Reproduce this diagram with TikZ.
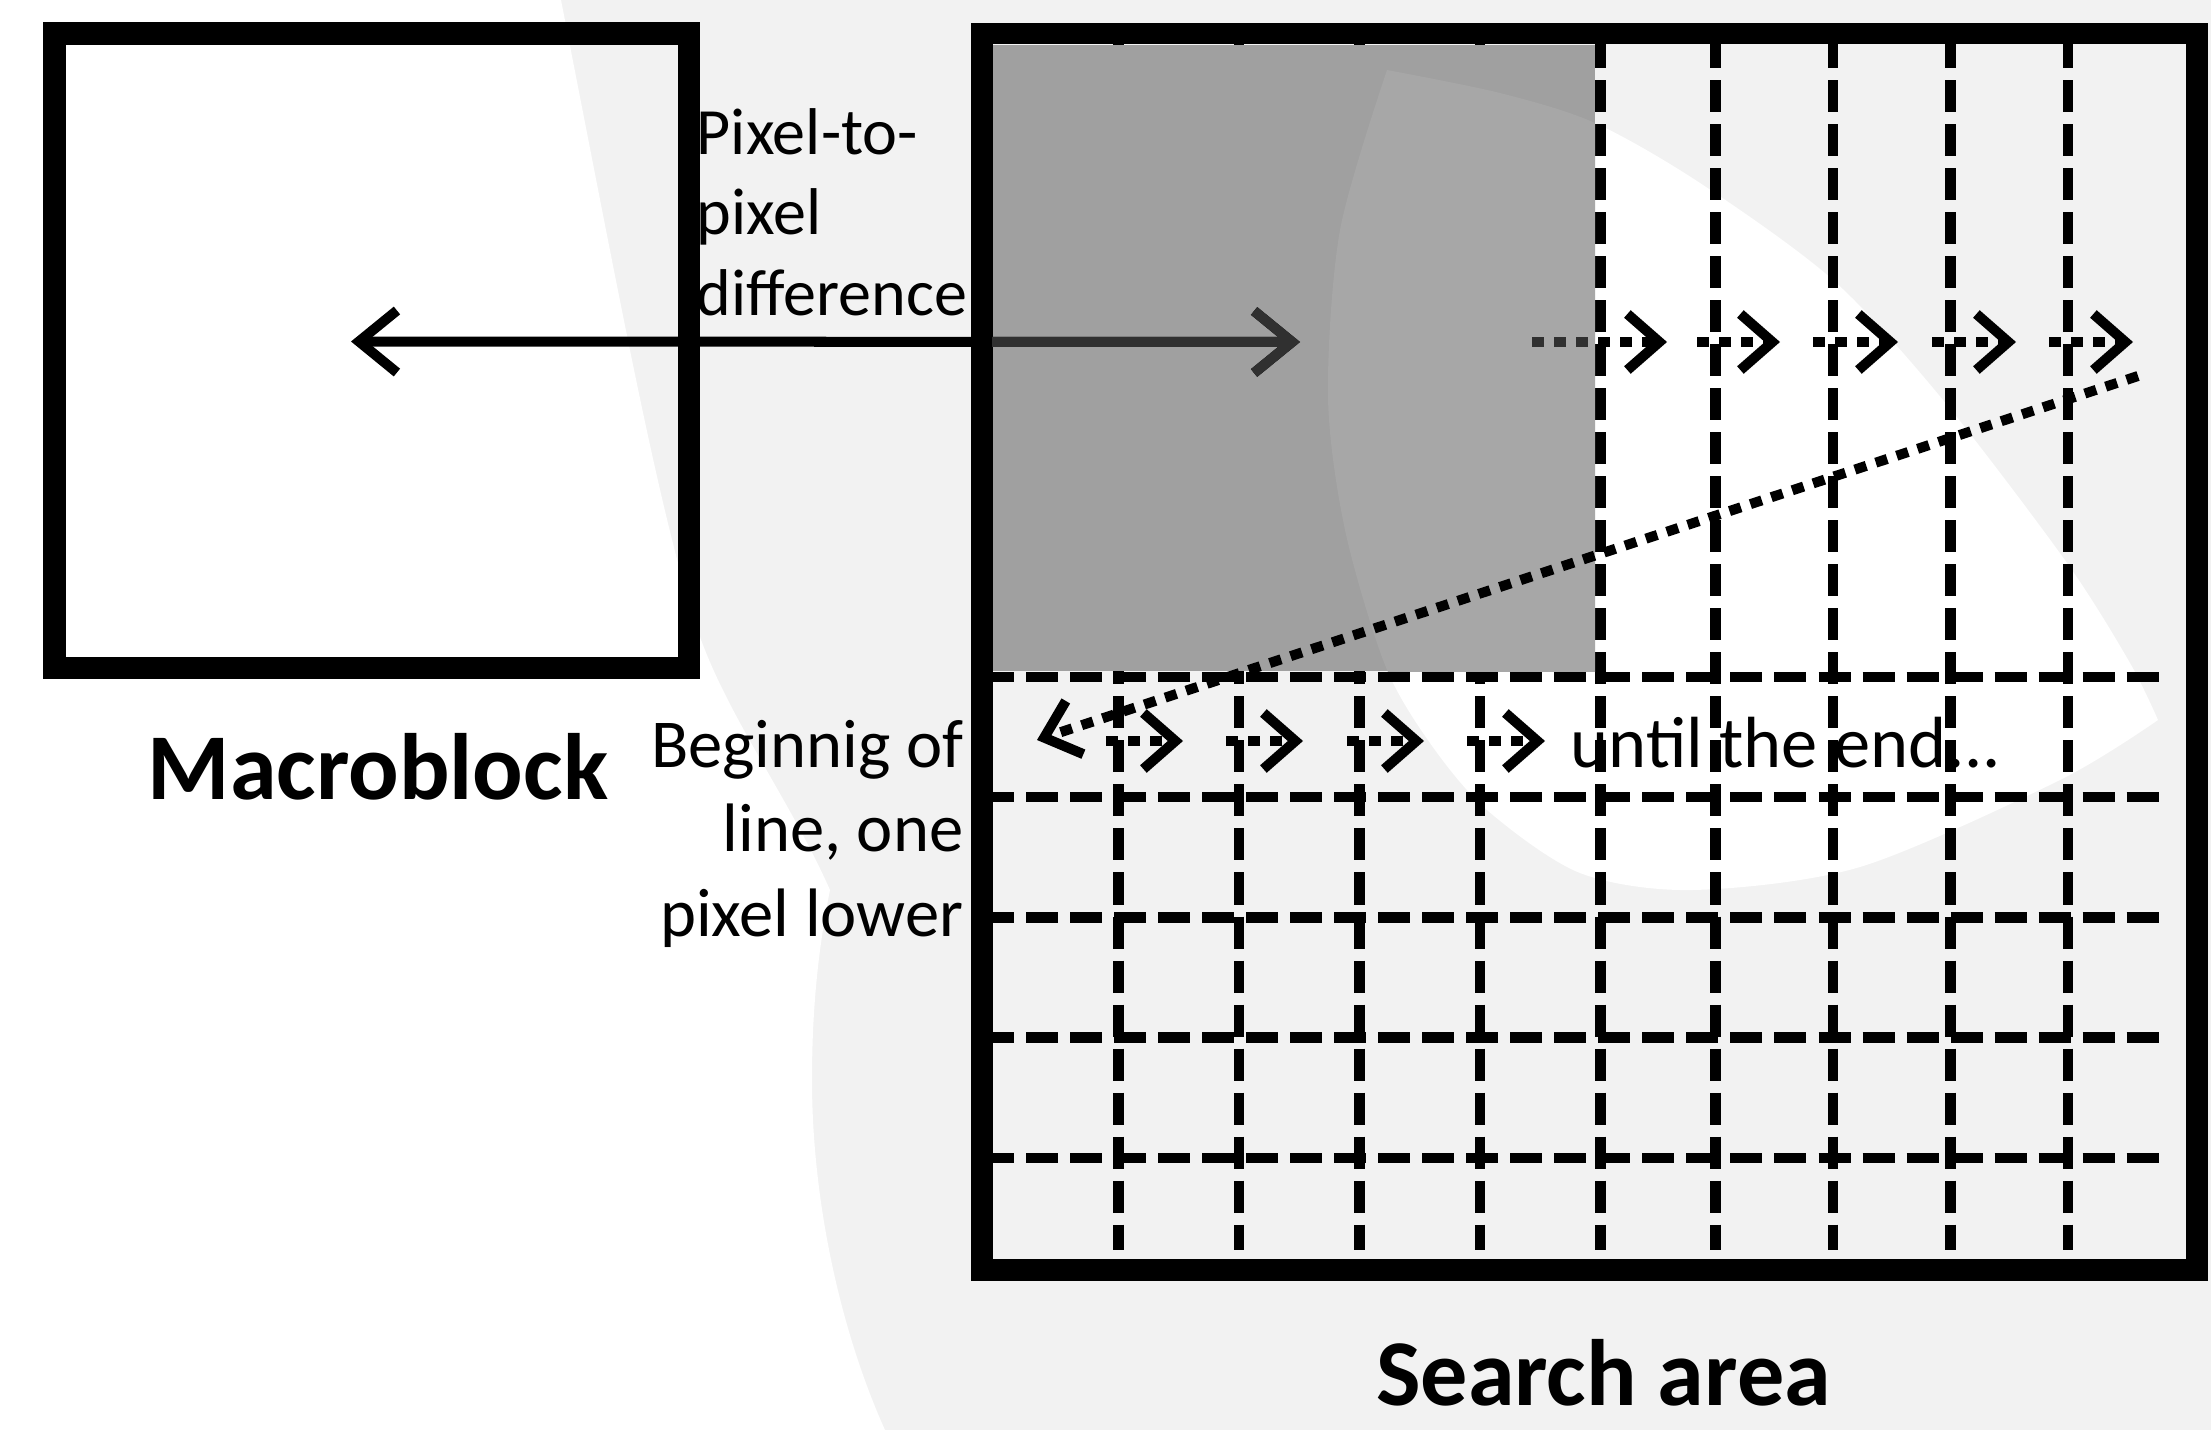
\documentclass[tikz,border=0pt]{standalone}
\usepackage{fontspec}
\setmainfont{Carlito}
\usetikzlibrary{arrows.meta}
\definecolor{bggray}{HTML}{F2F2F2}
\definecolor{blockgray}{HTML}{A0A0A0}
\definecolor{lensgray}{HTML}{A7A7A7}
\definecolor{dimink}{HTML}{303030}
\tikzset{
  boxline/.style={line width=0.225cm, draw=black, line join=miter},
  gridline/.style={line width=0.105cm, dash pattern=on 0.32cm off 0.12cm},
  dotline/.style={line width=0.1cm, dash pattern=on 0.12cm off 0.1cm},
  chev/.style={-{Straight Barb[length=0.32cm,width=0.56cm]}},
  bigchev/.style={{Straight Barb[length=0.38cm,width=0.62cm]}-{Straight Barb[length=0.38cm,width=0.62cm]}},
  smalltext/.style={inner sep=0pt, font=\fontsize{18.8}{22}\selectfont},
  midtext/.style={inner sep=0pt, font=\fontsize{19.5}{23}\selectfont},
  untiltext/.style={inner sep=0pt, font=\fontsize{20.6}{24}\selectfont},
  bigtext/.style={inner sep=0pt, font=\fontsize{26.8}{32}\selectfont\bfseries},
}
\begin{document}
\begin{tikzpicture}[x=0.01cm,y=-0.01cm]
\useasboundingbox (0,0) rectangle (2211,1430);
% background
\fill[bggray] (0,0) rectangle (2211,1430);
\fill[white] (0,0) -- (561,0) .. controls (620,300) and (660,520) .. (700,637) .. controls (730,720) and (790,800) .. (830,890) .. controls (818,950) and (812,1010) .. (812,1080) .. controls (812,1200) and (840,1330) .. (885,1430) -- (0,1430) -- cycle;
% white lens inside search area
\fill[white] plot[smooth,tension=0.5] coordinates {(1387,70) (1500,93) (1595,123) (1700,183) (1833,280) (1943,400) (2067,563) (2130,663) (2158,720)} -- plot[smooth,tension=0.5] coordinates {(2158,720) (2060,780) (1860,867) (1693,890) (1580,873) (1487,810) (1430,743) (1385,665) (1345,530) (1328,397) (1340,230) (1387,70)} -- cycle;
% grid
\foreach \x in {1118.5,1239,1359.5,1480,1600.5,1715.5,1833,1950.5,2068}
  \draw[gridline] (\x,36) -- (\x,1250);
\foreach \y in {677,797,917.5,1037.5,1158}
  \draw[gridline] (982,\y) -- (2169,\y);
% already searched block
\fill[blockgray] (992,44.5) rectangle (1595,671);
\begin{scope}
  \clip (992,44.5) rectangle (1595,671);
  \fill[lensgray] plot[smooth,tension=0.5] coordinates {(1387,70) (1500,93) (1595,123) (1700,183) (1833,280) (1943,400) (2067,563) (2130,663) (2158,720)} -- plot[smooth,tension=0.5] coordinates {(2158,720) (2060,780) (1860,867) (1693,890) (1580,873) (1487,810) (1430,743) (1385,665) (1345,530) (1328,397) (1340,230) (1387,70)} -- cycle;
\end{scope}
% boxes
\draw[boxline] (54.5,33.5) rectangle (689,668);
\draw[boxline, line width=0.215cm] (982,33.5) rectangle (2197,1270);
% coordinates
\coordinate (mbtip) at (351,341.5);
\coordinate (satip) at (1300,342);
\coordinate (a1s) at (1532,342); \coordinate (a1e) at (1667,342);
\coordinate (a2s) at (1697,342); \coordinate (a2e) at (1780,342);
\coordinate (a3s) at (1813,342); \coordinate (a3e) at (1898,342);
\coordinate (a4s) at (1932,342); \coordinate (a4e) at (2016,342);
\coordinate (a5s) at (2049,342); \coordinate (a5e) at (2133,342);
\coordinate (b1s) at (1106,741); \coordinate (b1e) at (1183,741);
\coordinate (b2s) at (1226,741); \coordinate (b2e) at (1303,741);
\coordinate (b3s) at (1347,741); \coordinate (b3e) at (1424,741);
\coordinate (b4s) at (1467,741); \coordinate (b4e) at (1545,741);
\coordinate (dgs) at (2138,376); \coordinate (dge) at (1037,740);
% arrows
\draw[line width=0.1cm, bigchev] (mbtip) -- (satip);
\foreach \n in {a1,a2,a3,a4,a5,b1,b2,b3,b4}
  \draw[dotline, chev] (\n s) -- (\n e);
\draw[dotline, chev] (dgs) -- (dge);
\begin{scope}
  \clip (992,44.5) rectangle (1595,671);
  \draw[dimink, line width=0.1cm, bigchev] (mbtip) -- (satip);
  \draw[dimink, dotline] (a1s) -- (1595,342);
\end{scope}
% texts
\node[smalltext, anchor=base west] (pt1) at (696,154) {Pixel-to-};
\node[smalltext, anchor=base west] (pt2) at (696,234.5) {pixel};
\node[smalltext, anchor=base west] (pt3) at (696,315) {difference};
\node[midtext, anchor=base east] (bl1) at (964,767) {Beginnig of};
\node[midtext, anchor=base east] (bl2) at (964,851.5) {line, one};
\node[midtext, anchor=base east] (bl3) at (964,936) {pixel lower};
\node[untiltext, anchor=base west] (until) at (1570,767) {until the end...};
\node[bigtext, anchor=base] (mblabel) at (378,799) {Macroblock};
\node[bigtext, anchor=base] (salabel) at (1603.5,1405) {Search area};
\end{tikzpicture}
\end{document}
